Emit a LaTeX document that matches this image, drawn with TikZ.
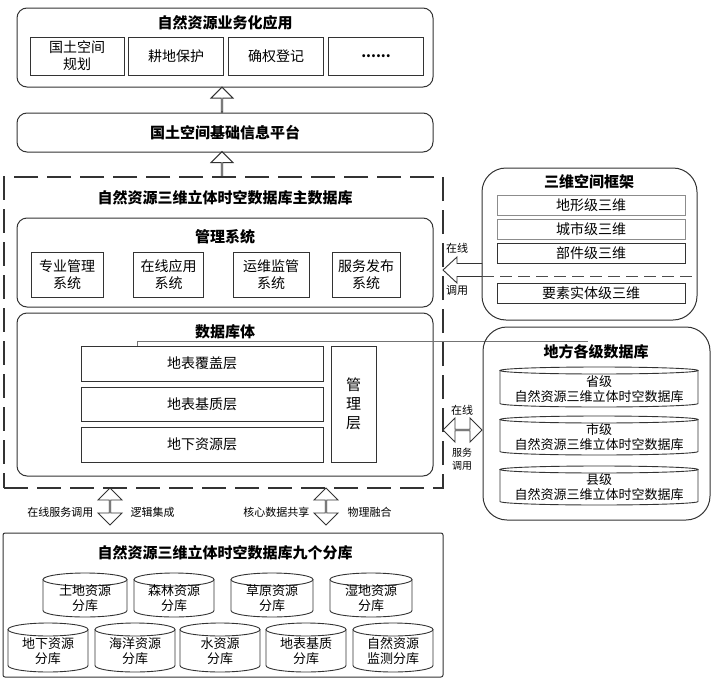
\documentclass[tikz,border=0pt]{standalone}
\usepackage{fontspec}
\setmainfont{Noto Sans CJK SC}
\usetikzlibrary{shapes.arrows}

% drum shaped database: name, x, y, width, height, cap, text
\newcommand{\dbdrum}[7]{%
    \draw[drum] ({#2-#4/2},{#3-#5/2+#6}) -- ({#2-#4/2},{#3+#5/2-#6})
        arc[start angle=180, end angle=360, x radius=#4/2*1pt, y radius=#6*1pt]
        -- ({#2+#4/2},{#3-#5/2+#6});
    \draw[drum] (#2,{#3-#5/2+#6}) ellipse[x radius=#4/2*1pt, y radius=#6*1pt];
    \node[drumtext] (#1) at (#2,{#3+#6/2}) {#7};
}

\begin{document}
\begin{tikzpicture}[x=1pt,y=-1pt,
    panel/.style={draw=black!80, line width=1pt, rounded corners=10pt},
    roundpanel/.style={draw=black!80, line width=1pt, rounded corners=24pt},
    item/.style={draw=black!80, line width=0.9pt, inner sep=0pt, align=center, font=\fontsize{14}{17}\selectfont},
    slim/.style={draw=black!80, line width=0.9pt, inner sep=0pt, minimum width=188pt, minimum height=20pt, font=\fontsize{14}{16}\selectfont},
    ttl/.style={font=\bfseries\fontsize{15}{17}\selectfont},
    drum/.style={draw=black!80, line width=0.9pt},
    drumtext/.style={align=center, inner sep=0pt, font=\fontsize{13}{15}\selectfont},
    uparrow/.style={single arrow, draw=black!80, line width=0.9pt, shape border rotate=90, minimum height=25pt, minimum width=22pt, single arrow head extend=6pt, single arrow head indent=0pt, inner sep=0pt},
    twoway/.style={double arrow, draw=black!80, line width=0.9pt, minimum width=24pt, double arrow head extend=7pt, inner sep=0pt},
    note/.style={font=\fontsize{11}{13}\selectfont}]
    \useasboundingbox (0,0) rectangle (725,680);

    %business applications
        \node[panel, minimum width=416pt, minimum height=79pt] (app) at (225,47.5) {};
        \node[ttl] (apptitle) at (225,23) {自然资源业务化应用};
        \node[item, minimum width=94pt, minimum height=38pt] (plan) at (77,56) {国土空间\\规划};
        \node[item, minimum width=95pt, minimum height=38pt] (farm) at (176,56) {耕地保护};
        \node[item, minimum width=95pt, minimum height=38pt] (right) at (276,56) {确权登记};
        \node[item, minimum width=95pt, minimum height=38pt] (more) at (376,56) {\textbf{......}};

        \node[uparrow] (up1) at (222,100) {};
        \node[panel, ttl, minimum width=416pt, minimum height=39pt] (platform) at (225,132.5) {国土空间基础信息平台};
        \node[uparrow] (up2) at (222,164.5) {};

    %main database
        \node[draw=black!80, line width=1.8pt, dash pattern=on 24pt off 9pt, minimum width=439pt, minimum height=311pt] (main) at (223.5,332.5) {};
        \node[ttl] (maintitle) at (225,198) {自然资源三维立体时空数据库主数据库};

        \node[panel, minimum width=416pt, minimum height=89pt] (mgmt) at (225,262.5) {};
        \node[ttl] (mgmttitle) at (225,237) {管理系统};
        \node[item, minimum width=72pt, minimum height=45pt] (pro) at (67,274.5) {专业管理\\系统};
        \node[item, minimum width=70pt, minimum height=45pt] (online) at (168.5,274.5) {在线应用\\系统};
        \node[item, minimum width=76pt, minimum height=45pt] (ops) at (271,274.5) {运维监管\\系统};
        \node[item, minimum width=68pt, minimum height=45pt] (pub) at (366,274.5) {服务发布\\系统};

        \node[panel, minimum width=416pt, minimum height=163pt] (body) at (225,394.5) {};
        \node[ttl] (bodytitle) at (225,332) {数据库体};
        \node[item, minimum width=242pt, minimum height=35pt] (cover) at (202,363.5) {地表覆盖层};
        \node[item, minimum width=242pt, minimum height=34pt] (base) at (202,404) {地表基质层};
        \node[item, minimum width=242pt, minimum height=35pt] (under) at (202,444.5) {地下资源层};
        \node[item, minimum width=45pt, minimum height=116pt, font=\fontsize{15}{19}\selectfont] (mlayer) at (353.5,404) {管\\理\\层};
        \coordinate (lineend) at (588,341);
        \draw[black!55, line width=0.8pt] ([xshift=57pt]cover.north west) |- (lineend);

    %links to the branch databases
        \node[twoway, shape border rotate=90, minimum height=37pt] (logic) at (110,506.5) {};
        \node[twoway, shape border rotate=90, minimum height=37pt] (phys) at (326,506.5) {};
        \node[note, anchor=east] at ([xshift=-13pt, yshift=-6pt]logic.center) {在线服务调用};
        \node[note, anchor=west] at ([xshift=17pt, yshift=-6pt]logic.center) {逻辑集成};
        \node[note, anchor=east] at ([xshift=-13pt, yshift=-6pt]phys.center) {核心数据共享};
        \node[note, anchor=west] at ([xshift=18pt, yshift=-6pt]phys.center) {物理融合};

    %nine branch databases
        \node[draw=black!80, line width=1pt, rounded corners=2pt, minimum width=440pt, minimum height=144pt] (branch) at (223,605) {};
        \node[ttl] (branchtitle) at (225,553) {自然资源三维立体时空数据库九个分库};
        \dbdrum{land}{85}{595}{84}{44}{6.5}{土地资源\\分库}
        \dbdrum{forest}{174}{595}{80}{44}{6.5}{森林资源\\分库}
        \dbdrum{grass}{272}{595}{82}{44}{6.5}{草原资源\\分库}
        \dbdrum{wet}{371}{595}{82}{44}{6.5}{湿地资源\\分库}
        \dbdrum{ground}{48}{647.5}{80}{49}{6.5}{地下资源\\分库}
        \dbdrum{sea}{135}{647.5}{80}{49}{6.5}{海洋资源\\分库}
        \dbdrum{water}{220}{647.5}{80}{49}{6.5}{水资源\\分库}
        \dbdrum{matrix}{306}{647.5}{80}{49}{6.5}{地表基质\\分库}
        \dbdrum{monitor}{393}{647.5}{80}{49}{6.5}{自然资源\\监测分库}

    %3d spatial framework
        \node[roundpanel, minimum width=215pt, minimum height=152pt] (frame3d) at (589.5,244) {};
        \node[ttl] (frametitle) at (589,182) {三维空间框架};
        \node[slim, draw=black!45] (terrain) at (591,205) {地形级三维};
        \node[slim, draw=black!45] (city) at (591,229) {城市级三维};
        \node[slim] (part) at (591,253) {部件级三维};
        \node[slim] (entity) at (591,293) {要素实体级三维};
        \coordinate (cutL) at (482,276);
        \coordinate (cutR) at (697,276);
        \draw[black!70, line width=0.9pt, dash pattern=on 12pt off 6pt] (cutL) -- (cutR);
        \coordinate (calltip) at (443,270);
        \draw[black!80, line width=0.9pt, fill=white] (calltip) -- ++(14,-13) -- ++(0,6.5) -- ++(25,0)
            -- ++(0,13) -- ++(-25,0) -- ++(0,6.5) -- cycle;
        \node[note] at (457,248) {在线};
        \node[note] at (457,290) {调用};

    %local databases
        \node[roundpanel, minimum width=227pt, minimum height=193pt] (local) at (596.5,423.5) {};
        \node[ttl] (localtitle) at (596,352) {地方各级数据库};
        \dbdrum{prov}{599}{387}{198}{40}{3.5}{省级\\自然资源三维立体时空数据库}
        \dbdrum{cityd}{599}{435.5}{198}{39}{3.5}{市级\\自然资源三维立体时空数据库}
        \dbdrum{county}{599}{485.5}{198}{39}{3.5}{县级\\自然资源三维立体时空数据库}
        \node[twoway, minimum height=39pt] (service) at (462.5,430) {};
        \node[note] at (462,410) {在线};
        \node[note, align=center, font=\fontsize{10}{13}\selectfont] at (462,459) {服务\\调用};

\end{tikzpicture}
\end{document}
